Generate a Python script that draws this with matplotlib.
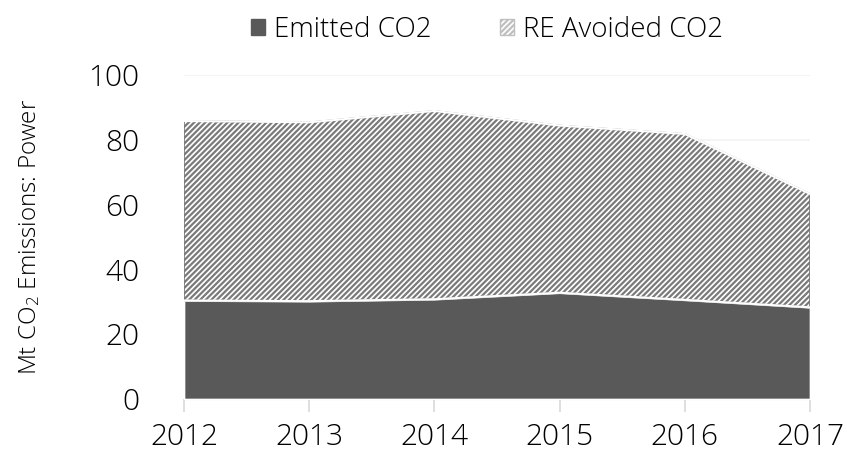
import matplotlib
matplotlib.use("Agg")
import matplotlib.pyplot as plt
import matplotlib.patches as patches
import numpy as np

# data
years = ["2012", "2013", "2014", "2015", "2016", "2017"]
emitted = [30.4, 30.2, 30.8, 32.8, 30.6, 28.3]
total = [85.8, 85.4, 88.9, 84.4, 81.8, 63.3]
avoided = [t - e for t, e in zip(total, emitted)]

dark = "#595959"
hatch_gray = "#7a7a7a"
grid_gray = "#d9d9d9"

plt.rcParams["font.family"] = ["Open Sans", "DejaVu Sans"]
plt.rcParams["font.weight"] = "light"
plt.rcParams["axes.labelweight"] = "light"
plt.rcParams["mathtext.default"] = "regular"
plt.rcParams["hatch.linewidth"] = 1.6
plt.rcParams["hatch.color"] = hatch_gray

fig = plt.figure(figsize=(8.47, 4.57), dpi=100)
ax = fig.add_axes([184 / 847, 1 - 399 / 457, 626 / 847, 324 / 457])

x = np.arange(len(years))
polys = ax.stackplot(x, emitted, avoided, colors=[dark, "white"],
                     edgecolor="white", linewidth=1.2, zorder=2)
polys[1].set_hatch("//////")
polys[1].set_edgecolor(hatch_gray)
# white edge lines over the areas
ax.plot(x, total, color="white", lw=1.5, zorder=3)
ax.plot(x, emitted, color="white", lw=1.5, zorder=3)

ax.set_xlim(0, len(years) - 1)
ax.set_ylim(0, 100)
ax.set_yticks(range(0, 101, 20))
ax.yaxis.grid(True, color="#f2f2f2", lw=1.2, zorder=0)
ax.set_axisbelow(True)

ax.set_xticks(x)
ax.set_xticklabels(years)
for s in ["top", "right", "left"]:
    ax.spines[s].set_visible(False)
ax.spines["bottom"].set_color(grid_gray)
ax.spines["bottom"].set_zorder(1)
ax.tick_params(axis="x", length=9, color=grid_gray, width=1.2, pad=8,
               labelsize=21.5, labelcolor="#000000")
ax.tick_params(axis="y", length=0, pad=32, labelsize=21.5, labelcolor="#000000")

ax.set_ylabel("Mt CO$_2$ Emissions: Power", fontsize=17.5, color="#000000",
              fontweight="light")
ax.yaxis.set_label_coords((42 - 184) / 626, 0.5)

h1 = patches.Patch(facecolor=dark, edgecolor=dark)
h2 = patches.Patch(facecolor="white", edgecolor="#bfbfbf", hatch="//////")
fig.legend([h1, h2], ["Emitted CO2", "RE Avoided CO2"], loc="center",
           bbox_to_anchor=(487 / 847, 1 - 30 / 457), ncol=2, frameon=False,
           prop={"size": 20, "weight": "light"}, handlelength=0.5,
           handleheight=0.5, handletextpad=0.3, columnspacing=2.5,
           labelcolor="#000000")

fig.savefig("out.png", dpi=100)
